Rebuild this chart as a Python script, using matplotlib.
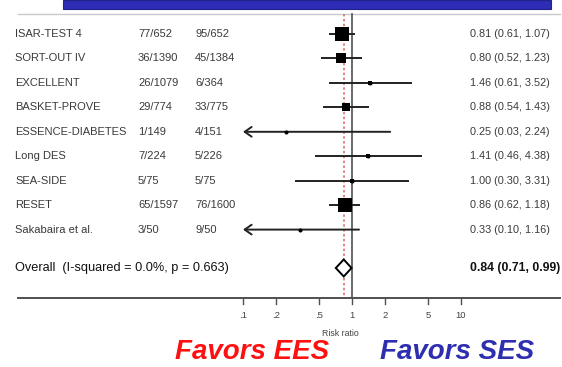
import numpy as np
import matplotlib
matplotlib.use("Agg")
import matplotlib.pyplot as plt
from matplotlib.patches import Rectangle, Polygon
import matplotlib.transforms as mtransforms

plt.rcParams['font.family'] = ['Liberation Sans', 'DejaVu Sans']

# ---- data ----
studies = ["ISAR-TEST 4", "SORT-OUT IV", "EXCELLENT", "BASKET-PROVE",
           "ESSENCE-DIABETES", "Long DES", "SEA-SIDE", "RESET", "Sakabaira et al."]
ees_events = ["77/652", "36/1390", "26/1079", "29/774", "1/149", "7/224", "5/75", "65/1597", "3/50"]
ses_events = ["95/652", "45/1384", "6/364", "33/775", "4/151", "5/226", "5/75", "76/1600", "9/50"]
rr = [0.81, 0.80, 1.46, 0.88, 0.25, 1.41, 1.00, 0.86, 0.33]
lo = [0.61, 0.52, 0.61, 0.54, 0.03, 0.46, 0.30, 0.62, 0.10]
hi = [1.07, 1.23, 3.52, 1.43, 2.24, 4.38, 3.31, 1.18, 1.16]
weights = [30.0, 17.0, 3.5, 11.0, 1.0, 2.0, 2.0, 30.0, 1.5]
overall_label = "Overall  (I-squared = 0.0%, p = 0.663)"
overall_rr, overall_lo, overall_hi = 0.84, 0.71, 0.99
tick_vals = [0.1, 0.2, 0.5, 1, 2, 5, 10]
tick_labels = [".1", ".2", ".5", "1", "2", "5", "10"]
xlabel = "Risk ratio"
favors_left = "Favors EES"
favors_right = "Favors SES"

# ---- layout (pixel based) ----
W, H = 562, 367
fig = plt.figure(figsize=(W / 100, H / 100), dpi=100)
ax = fig.add_axes([0, 0, 1, 1])
ax.set_xscale('log')
x0px, decade = 352.0, 109.0
ax.set_xlim(10 ** (-x0px / decade), 10 ** ((W - x0px) / decade))
ax.set_ylim(H, 0)
ax.axis('off')

bt = mtransforms.blended_transform_factory(ax.transAxes, ax.transData)
def fx(px):
    return px / W

row_top, row_gap = 34.0, 24.45
ys = [row_top + i * row_gap for i in range(len(studies))]
y_overall = 268.0
y_axis = 298.0
y_top = 14.0
xmin_plot, xmax_plot = 0.1, 10

# banner + top rule
fig.patches.append(Rectangle((fx(63), 1 - 9 / H), fx(551) - fx(63), 9 / H,
                             transform=fig.transFigure, facecolor='#2c2cb4',
                             edgecolor='#22228a', lw=0.8))
ax.plot([fx(18), fx(560)], [y_top, y_top], transform=bt, color='#c8c8c8', lw=1.0)

# reference lines
ax.plot([1, 1], [y_top, y_axis], color='#505050', lw=1.2, zorder=2)
ax.plot([overall_rr, overall_rr], [y_top, y_axis], color='#e06060', lw=1.1,
        ls=(0, (1.6, 1.6)), zorder=2)

txt_col = '#3a3a3a'
fs = 8.0
for i, y in enumerate(ys):
    ax.text(fx(15), y, studies[i], transform=bt, fontsize=fs, color=txt_col, va='center', ha='left')
    ax.text(fx(138), y, ees_events[i], transform=bt, fontsize=fs, color=txt_col, va='center', ha='left')
    ax.text(fx(195), y, ses_events[i], transform=bt, fontsize=fs, color=txt_col, va='center', ha='left')
    ax.text(fx(470), y, f"{rr[i]:.2f} ({lo[i]:.2f}, {hi[i]:.2f})", transform=bt,
            fontsize=7.8, color=txt_col, va='center', ha='left')
    # CI
    if lo[i] <= xmin_plot:
        ax.annotate('', xy=(xmin_plot, y), xytext=(hi[i], y),
                    arrowprops=dict(arrowstyle='->,head_length=0.5,head_width=0.35',
                                    color='#222222', lw=1.4, shrinkA=0, shrinkB=0))
    else:
        ax.plot([lo[i], hi[i]], [y, y], color='#222222', lw=1.4, zorder=3,
                solid_capstyle='butt')
    side_px = 2.4 * np.sqrt(weights[i])
    ax.plot(rr[i], y, marker='s', ms=side_px / 1.389, color='black', mew=0, zorder=4)
    ax.plot(rr[i], y, marker='o', ms=3.4 / 1.389 * 1.2, color='black', mew=0, zorder=5)

# overall
ax.text(fx(15), y_overall, overall_label, transform=bt, fontsize=9.2, color='#111111',
        va='center', ha='left')
ax.text(fx(470), y_overall, f"{overall_rr:.2f} ({overall_lo:.2f}, {overall_hi:.2f})",
        transform=bt, fontsize=8.8, fontweight='bold', color='#111111', va='center', ha='left')
dh = 8.5
diamond = Polygon([(overall_lo, y_overall), (overall_rr, y_overall - dh),
                   (overall_hi, y_overall), (overall_rr, y_overall + dh)],
                  closed=True, facecolor='white', edgecolor='black', lw=1.4, zorder=6)
ax.add_patch(diamond)

# x axis
ax.plot([fx(18), fx(560)], [y_axis, y_axis], transform=bt, color='#505050', lw=1.4)
for v, lab in zip(tick_vals, tick_labels):
    ax.plot([v, v], [y_axis, y_axis + 6], color='#505050', lw=1.0)
    ax.text(v, 315, lab, fontsize=6.8, color='#444444', ha='center', va='center')
ax.text(fx(340), 333, xlabel, transform=bt, fontsize=6.3, color='#444444', ha='center', va='center')

# favors
ax.text(fx(252), 352, favors_left, transform=bt, fontsize=20, fontweight='bold',
        style='italic', color='#ff1010', ha='center', va='center')
ax.text(fx(457), 352, favors_right, transform=bt, fontsize=20, fontweight='bold',
        style='italic', color='#2e2eb0', ha='center', va='center')

fig.savefig('out.png', dpi=100)
